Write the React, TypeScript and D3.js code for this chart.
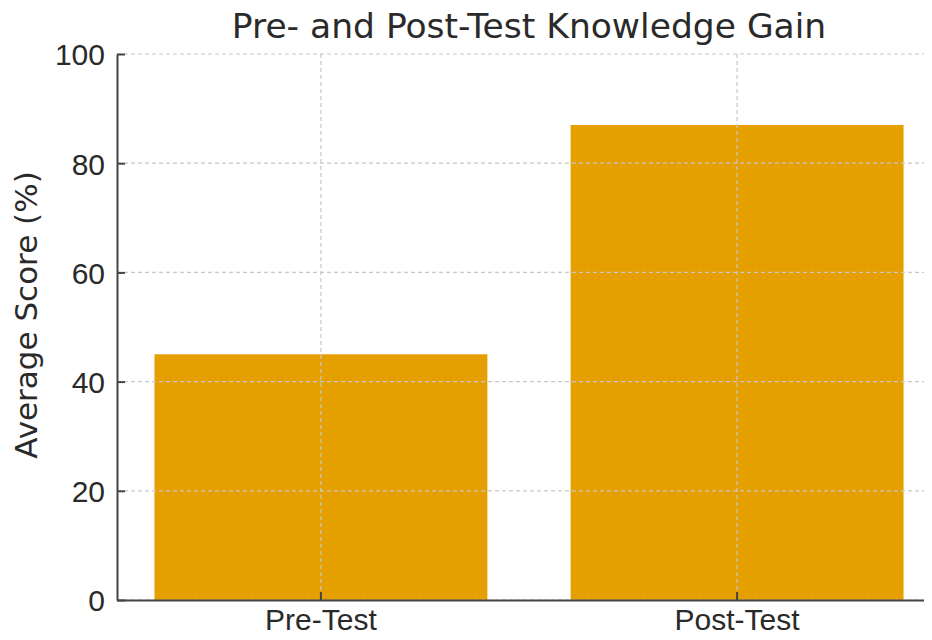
import { useEffect, useRef } from "react";
import * as d3 from "d3";

const categories = ["Pre-Test", "Post-Test"];
const scores = [45, 87];
const yTicks = [0, 20, 40, 60, 80, 100];

export default function App() {
  const svgRef = useRef<SVGSVGElement>(null);

  useEffect(() => {
    if (!svgRef.current) return;
    const width = 932;
    const height = 640;
    const margin = { top: 54, right: -9, bottom: 40, left: 117 };
    const innerW = width - margin.left - margin.right;
    const innerH = height - margin.top - margin.bottom;

    d3.select(svgRef.current).selectAll("*").remove();

    const svg = d3
      .select(svgRef.current)
      .attr("width", width)
      .attr("height", height)
      .style("font-family", "'DejaVu Sans', sans-serif");

    const g = svg
      .append("g")
      .attr("transform", `translate(${margin.left},${margin.top})`);

    const x = d3
      .scaleBand()
      .domain(categories)
      .range([0, innerW])
      .paddingInner(0.2)
      .paddingOuter(0.09);

    const y = d3.scaleLinear().domain([0, 100]).range([innerH, 0]);

    // bars
    g.selectAll(".bar")
      .data(categories)
      .join("rect")
      .attr("class", "bar")
      .attr("x", (d) => x(d) || 0)
      .attr("y", (_d, i) => y(scores[i]))
      .attr("width", x.bandwidth())
      .attr("height", (_d, i) => innerH - y(scores[i]))
      .attr("fill", "#E69F00");

    // grid drawn over the bars
    g.append("g")
      .selectAll("line")
      .data(yTicks)
      .join("line")
      .attr("x1", 0)
      .attr("x2", innerW)
      .attr("y1", (d) => y(d))
      .attr("y2", (d) => y(d))
      .attr("stroke", "#c8c8c8")
      .attr("stroke-width", 1.2)
      .attr("stroke-dasharray", "4,3");

    g.append("g")
      .selectAll("line")
      .data(categories)
      .join("line")
      .attr("x1", (d) => (x(d) || 0) + x.bandwidth() / 2)
      .attr("x2", (d) => (x(d) || 0) + x.bandwidth() / 2)
      .attr("y1", 0)
      .attr("y2", innerH)
      .attr("stroke", "#c8c8c8")
      .attr("stroke-width", 1.2)
      .attr("stroke-dasharray", "4,3");

    // y axis
    const yAxis = g
      .append("g")
      .call(
        d3
          .axisLeft(y)
          .tickValues(yTicks)
          .tickSizeInner(-8)
          .tickSizeOuter(0)
          .tickPadding(12)
      );
    yAxis.select(".domain").attr("stroke", "#444").attr("stroke-width", 2);
    yAxis.selectAll(".tick line").attr("stroke", "#444").attr("stroke-width", 2);
    yAxis
      .selectAll(".tick text")
      .attr("fill", "#2a2a2a")
      .style("font-size", "30px")
      .attr("dy", "0.36em");

    // x axis
    const xAxis = g
      .append("g")
      .attr("transform", `translate(0,${innerH})`)
      .call(d3.axisBottom(x).tickSizeInner(-8).tickSizeOuter(0).tickPadding(9));
    xAxis.select(".domain").attr("stroke", "#444").attr("stroke-width", 2);
    xAxis.selectAll(".tick line").attr("stroke", "#444").attr("stroke-width", 2);
    xAxis
      .selectAll(".tick text")
      .attr("fill", "#2a2a2a")
      .style("font-size", "30px");

    // title
    svg
      .append("text")
      .attr("x", margin.left + innerW / 2)
      .attr("y", 38)
      .attr("text-anchor", "middle")
      .attr("fill", "#2a2a2a")
      .style("font-size", "34.5px")
      .text("Pre- and Post-Test Knowledge Gain");

    // y label
    svg
      .append("text")
      .attr("transform", `translate(37,${margin.top + innerH / 2 - 12}) rotate(-90)`)
      .attr("text-anchor", "middle")
      .attr("fill", "#2a2a2a")
      .style("font-size", "31px")
      .text("Average Score (%)");
  }, []);

  return (
    <div style={{ margin: -8 }}>
      <svg ref={svgRef}></svg>
    </div>
  );
}
